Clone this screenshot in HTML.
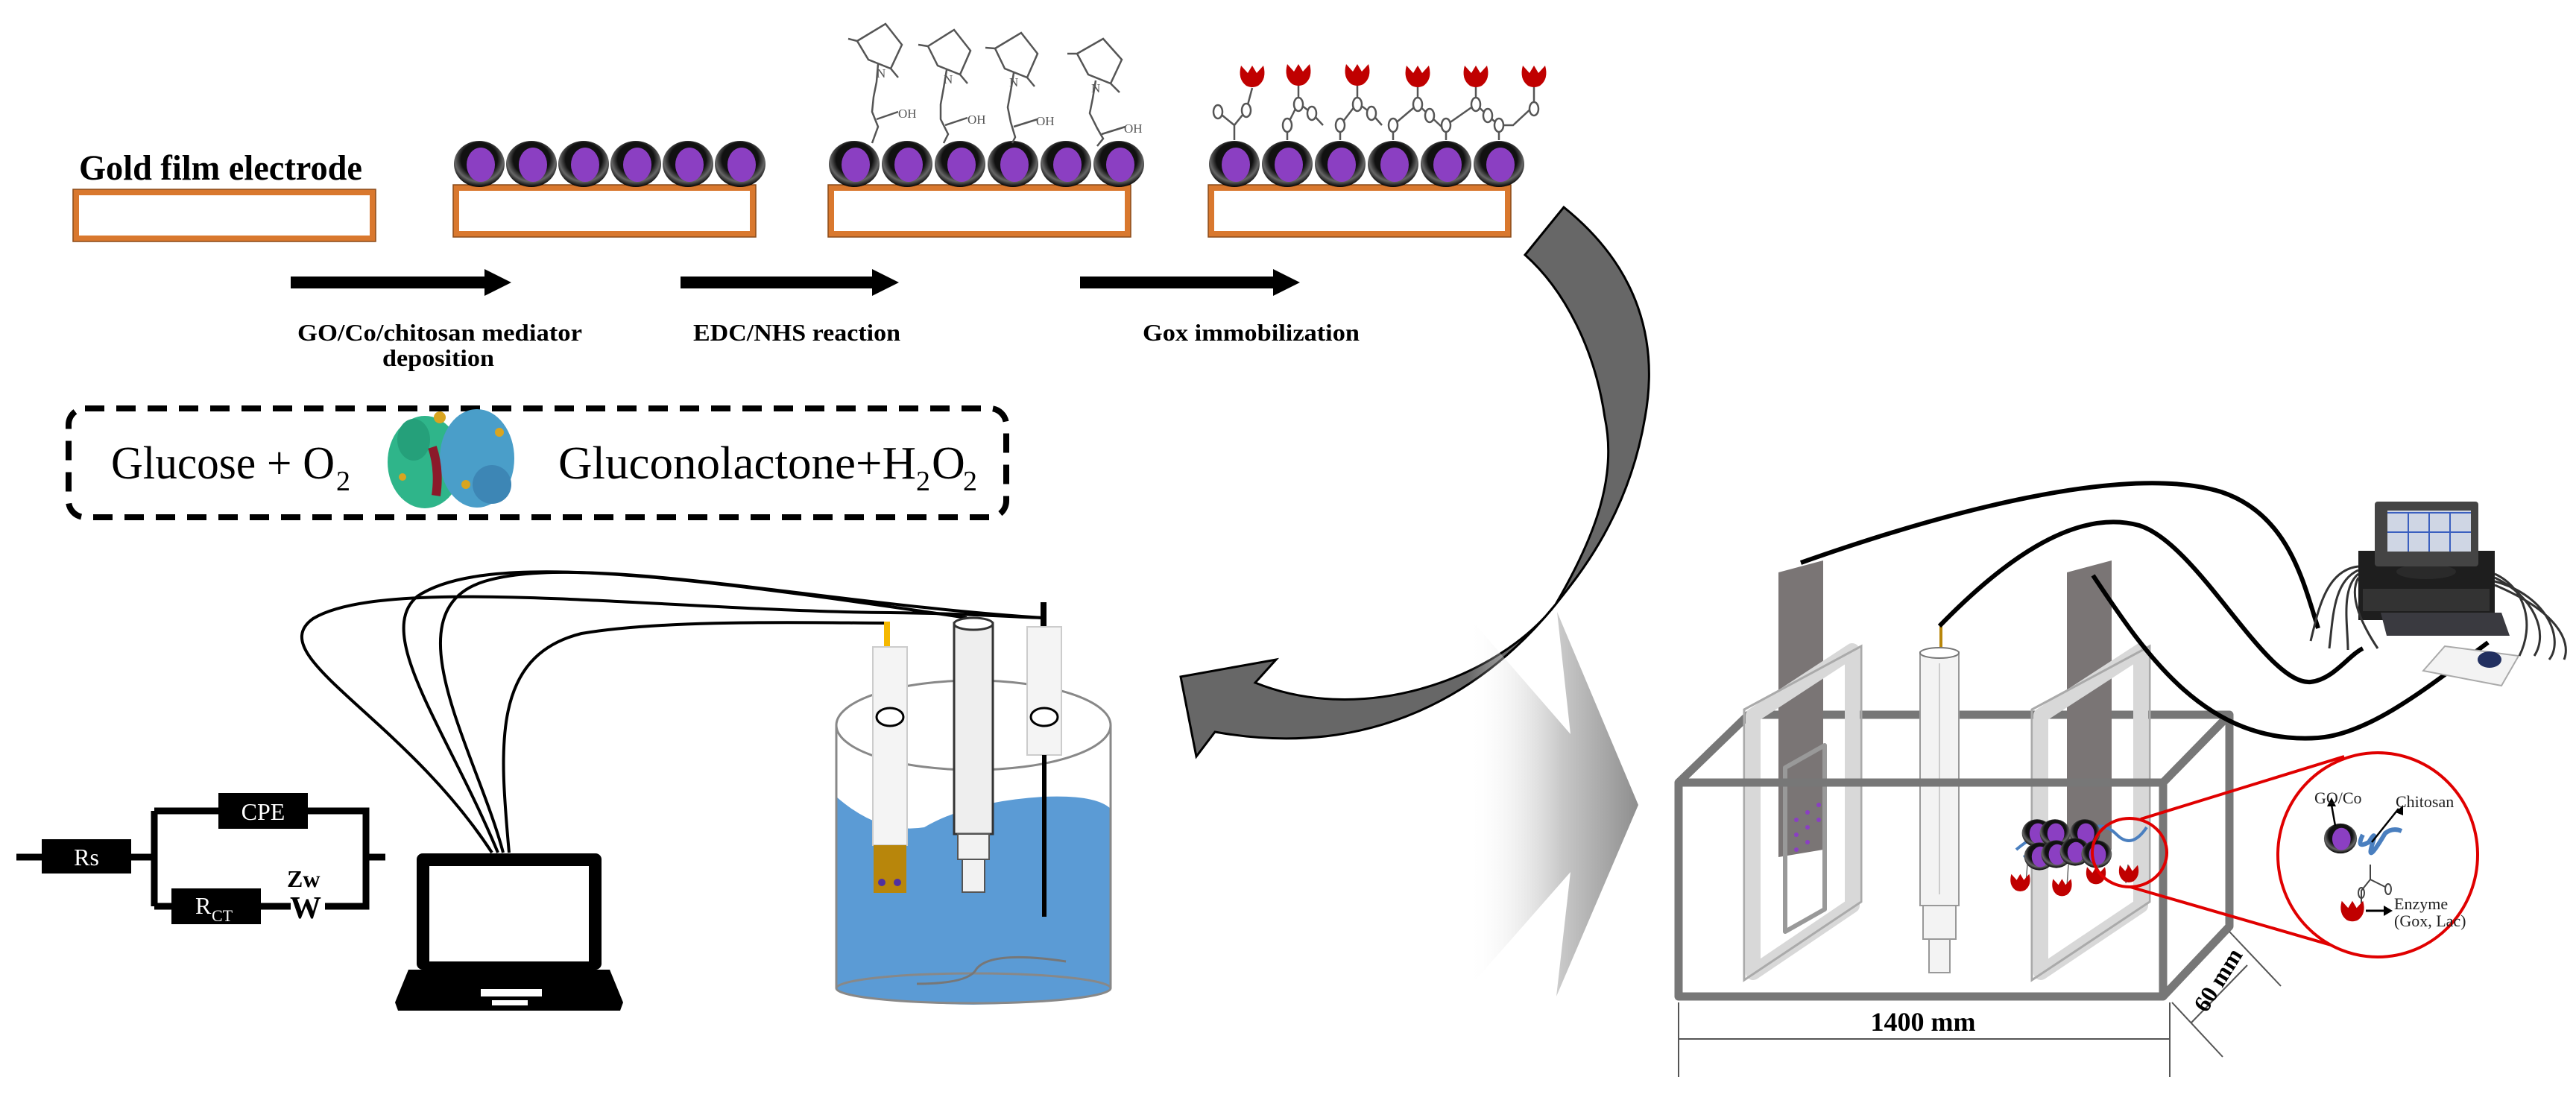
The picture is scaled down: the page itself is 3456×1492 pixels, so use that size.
<!DOCTYPE html>
<html><head><meta charset="utf-8"><style>
html,body{margin:0;padding:0;background:#fff;width:3456px;height:1492px;overflow:hidden}
svg{display:block}
text{font-family:"Liberation Serif",serif}
</style></head><body>
<svg width="3456" height="1492" viewBox="0 0 3456 1492" xmlns="http://www.w3.org/2000/svg">
<defs>
<radialGradient id="bead" cx="50%" cy="40%" r="60%"><stop offset="0.6" stop-color="#111"/><stop offset="0.8" stop-color="#666"/><stop offset="1" stop-color="#000"/></radialGradient>
<linearGradient id="chev" x1="0" x2="1" y1="0" y2="0"><stop offset="0" stop-color="#fff" stop-opacity="0"/><stop offset="0.55" stop-color="#c8c8c8"/><stop offset="1" stop-color="#8e8e8e"/></linearGradient>
<g id="b"><ellipse cx="0" cy="0" rx="34" ry="31" fill="url(#bead)"/><ellipse cx="2" cy="1" rx="19" ry="23" fill="#8b3fc2"/></g>
<g id="enz"><path d="M-15,-14 L-6,-4 L0,-14 L6,-4 L15,-14 Q20,4 8,13 Q0,17 -8,13 Q-20,4 -15,-14Z" fill="#c00000"/></g>
</defs>

<!-- Top: electrodes -->
<text x="106" y="241" font-size="48" font-weight="bold" textLength="380" lengthAdjust="spacingAndGlyphs">Gold film electrode</text>
<g fill="none" stroke="#d9782e" stroke-width="8">
<rect x="102" y="258" width="398" height="62"/>
<rect x="612" y="252" width="398" height="62"/>
<rect x="1115" y="252" width="398" height="62"/>
<rect x="1625" y="252" width="398" height="62"/>
</g>
<g fill="none" stroke="#8a4a18" stroke-width="1.5">
<rect x="98" y="254" width="406" height="70"/><rect x="608" y="248" width="406" height="70"/>
<rect x="1111" y="248" width="406" height="70"/><rect x="1621" y="248" width="406" height="70"/>
</g>
<!-- beads -->
<g>
<use href="#b" x="643" y="220"/><use href="#b" x="713" y="220"/><use href="#b" x="783" y="220"/><use href="#b" x="853" y="220"/><use href="#b" x="923" y="220"/><use href="#b" x="993" y="220"/>
<use href="#b" x="1146" y="220"/><use href="#b" x="1217" y="220"/><use href="#b" x="1288" y="220"/><use href="#b" x="1359" y="220"/><use href="#b" x="1430" y="220"/><use href="#b" x="1501" y="220"/>
<use href="#b" x="1656" y="220"/><use href="#b" x="1727" y="220"/><use href="#b" x="1798" y="220"/><use href="#b" x="1869" y="220"/><use href="#b" x="1940" y="220"/><use href="#b" x="2011" y="220"/>
</g>
<!-- NHS chemistry -->
<g fill="none" stroke="#555" stroke-width="2.5">
<path d="M1150,55 L1188,32 L1210,60 L1195,92 L1165,80Z M1150,55 L1138,52 M1195,92 L1205,104 M1178,86 L1176,110 L1172,130 L1170,150 L1178,170 L1170,192"/>
<path d="M1245,62 L1280,40 L1302,68 L1288,100 L1258,88Z M1245,62 L1232,60 M1288,100 L1298,112 M1270,94 L1266,118 L1262,140 L1262,160 L1272,180 L1266,192"/>
<path d="M1335,65 L1370,44 L1392,72 L1378,104 L1348,92Z M1335,65 L1322,64 M1378,104 L1388,116 M1360,98 L1356,122 L1352,144 L1356,164 L1362,184 L1358,192"/>
<path d="M1445,72 L1480,52 L1505,80 L1490,112 L1460,100Z M1445,72 L1432,72 M1490,112 L1502,124 M1470,108 L1466,132 L1462,152 L1472,172 L1480,186 L1472,196"/>
<path d="M1176,160 L1205,150 M1268,168 L1298,158 M1360,170 L1392,160 M1478,180 L1510,170"/>
</g>
<g font-size="17" fill="#555">
<text x="1205" y="158">OH</text><text x="1298" y="166">OH</text><text x="1390" y="168">OH</text><text x="1508" y="178">OH</text>
<text x="1176" y="104">N</text><text x="1266" y="112">N</text><text x="1354" y="116">N</text><text x="1464" y="124">N</text>
</g>
<!-- Gox chain -->
<g fill="none" stroke="#555" stroke-width="2.5">
<path d="M1656,188 L1656,168 L1672,148 L1680,118 M1656,168 L1634,150"/>
<path d="M1742,112 L1742,138 M1742,138 L1727,168 L1727,188 M1742,138 L1760,152 L1775,168"/>
<path d="M1821,112 L1821,138 L1798,168 L1798,188 M1821,138 L1840,152 L1854,168"/>
<path d="M1902,112 L1902,140 L1869,168 L1869,188 M1902,140 L1918,155 L1934,170"/>
<path d="M1980,112 L1980,140 L1940,168 L1940,188 M1980,140 L1996,155 L2011,168 L2011,188 M2058,112 L2058,142 L2030,168 L2011,168"/>
</g>
<g fill="#fff" stroke="#555" stroke-width="2.5">
<ellipse cx="1672" cy="148" rx="6" ry="9"/><ellipse cx="1742" cy="140" rx="6" ry="9"/><ellipse cx="1727" cy="168" rx="6" ry="9"/><ellipse cx="1760" cy="152" rx="6" ry="9"/>
<ellipse cx="1821" cy="140" rx="6" ry="9"/><ellipse cx="1798" cy="168" rx="6" ry="9"/><ellipse cx="1840" cy="152" rx="6" ry="9"/>
<ellipse cx="1902" cy="140" rx="6" ry="9"/><ellipse cx="1869" cy="168" rx="6" ry="9"/><ellipse cx="1918" cy="155" rx="6" ry="9"/>
<ellipse cx="1980" cy="140" rx="6" ry="9"/><ellipse cx="1940" cy="168" rx="6" ry="9"/><ellipse cx="1996" cy="155" rx="6" ry="9"/>
<ellipse cx="2058" cy="146" rx="6" ry="9"/><ellipse cx="2011" cy="168" rx="6" ry="9"/><ellipse cx="1634" cy="150" rx="6" ry="9"/>
</g>
<use href="#enz" x="1680" y="102"/><use href="#enz" x="1742" y="100"/><use href="#enz" x="1821" y="100"/><use href="#enz" x="1902" y="102"/><use href="#enz" x="1980" y="102"/><use href="#enz" x="2058" y="102"/>

<!-- step arrows -->
<g fill="#000">
<path d="M390,371 L650,371 L650,361 L686,379 L650,397 L650,387 L390,387Z"/>
<path d="M913,371 L1170,371 L1170,361 L1206,379 L1170,397 L1170,387 L913,387Z"/>
<path d="M1449,371 L1708,371 L1708,361 L1744,379 L1708,397 L1708,387 L1449,387Z"/>
</g>
<g font-size="32" font-weight="bold">
<text x="399" y="457" textLength="382" lengthAdjust="spacingAndGlyphs">GO/Co/chitosan mediator</text>
<text x="513" y="491" textLength="150" lengthAdjust="spacingAndGlyphs">deposition</text>
<text x="930" y="457" textLength="278" lengthAdjust="spacingAndGlyphs">EDC/NHS reaction</text>
<text x="1533" y="457" textLength="291" lengthAdjust="spacingAndGlyphs">Gox immobilization</text>
</g>

<!-- dashed box -->
<rect x="92" y="548" width="1258" height="146" rx="22" fill="none" stroke="#000" stroke-width="8" stroke-dasharray="26,16"/>
<text x="149" y="642" font-size="62" textLength="300" lengthAdjust="spacingAndGlyphs">Glucose + O</text>
<text x="451" y="658" font-size="38">2</text>
<text x="749" y="642" font-size="62" textLength="480" lengthAdjust="spacingAndGlyphs">Gluconolactone+H</text>
<text x="1229" y="658" font-size="38">2</text>
<text x="1250" y="642" font-size="62">O</text>
<text x="1292" y="658" font-size="38">2</text>
<!-- enzyme protein blob -->
<g>
<ellipse cx="570" cy="620" rx="50" ry="62" fill="#2fb58a"/>
<ellipse cx="640" cy="615" rx="50" ry="66" fill="#4a9ec9"/>
<ellipse cx="555" cy="590" rx="22" ry="28" fill="#25a07a"/>
<ellipse cx="660" cy="650" rx="26" ry="26" fill="#3d86b5"/>
<path d="M580,600 Q590,630 585,665" stroke="#8b1a2a" stroke-width="12" fill="none"/>
<circle cx="590" cy="560" r="8" fill="#d9a520"/><circle cx="670" cy="580" r="6" fill="#d9a520"/><circle cx="625" cy="650" r="6" fill="#d9a520"/><circle cx="540" cy="640" r="5" fill="#d9a520"/>
</g>

<!-- curved gray arrow -->
<path d="M2098,278 C2200,360 2225,460 2207,560 C2185,690 2120,770 2087,811 C1990,930 1840,1020 1630,982 L1605,1015 L1584,908 L1712,885 L1684,916 C1830,975 2010,910 2087,811 C2140,720 2170,640 2153,560 C2140,470 2100,390 2046,342 Z" fill="#676767" stroke="#000" stroke-width="3"/>

<!-- big chevron -->
<path d="M1969,826 L2107,985 L2089,821 L2198,1080 L2088,1337 L2107,1170 L1969,1327 Z" fill="url(#chev)"/>

<!-- laptop cables -->
<g fill="none" stroke="#000" stroke-width="4">
<path d="M660,1144 C540,960 350,880 420,830 C520,770 900,820 1194,822 C1300,823 1360,828 1400,829"/>
<path d="M668,1144 C600,980 500,850 560,800 C650,740 900,770 1297,829"/>
<path d="M675,1144 C640,1010 520,820 650,780 C780,740 1100,810 1400,829"/>
<path d="M683,1144 C670,1000 660,880 780,850 C900,830 1100,836 1194,836"/>
</g>
<!-- laptop -->
<rect x="559" y="1145" width="248" height="156" rx="8" fill="#000"/>
<rect x="576" y="1162" width="214" height="128" fill="#fff"/>
<path d="M548,1301 L818,1301 L836,1345 L832,1356 L534,1356 L530,1345Z" fill="#000"/>
<rect x="645" y="1327" width="82" height="10" fill="#fff"/><rect x="660" y="1342" width="48" height="7" fill="#fff"/>

<!-- circuit -->
<g stroke="#000" stroke-width="9" fill="none">
<path d="M22,1150 L56,1150 M176,1150 L207,1150 M207,1088 L207,1216 M207,1088 L295,1088 M412,1088 L491,1088 L491,1216 L436,1216 M207,1216 L232,1216 M350,1216 L390,1216 M491,1150 L517,1150"/>
</g>
<rect x="56" y="1126" width="120" height="46" fill="#000"/>
<rect x="293" y="1064" width="120" height="48" fill="#000"/>
<rect x="230" y="1192" width="120" height="48" fill="#000"/>
<g fill="#fff" font-size="32">
<text x="116" y="1161" text-anchor="middle">Rs</text>
<text x="353" y="1100" text-anchor="middle">CPE</text>
<text x="262" y="1226">R</text><text x="284" y="1236" font-size="22">CT</text>
</g>
<text x="385" y="1190" font-size="32" font-weight="bold">Zw</text>
<text x="389" y="1232" font-size="42" font-weight="bold" font-family="Liberation Sans">W</text>

<!-- beaker -->
<path d="M1122,1069 Q1180,1120 1240,1110 Q1300,1075 1400,1069 Q1470,1066 1490,1085 L1490,1326 Q1306,1370 1122,1326Z" fill="#5b9bd5"/>
<ellipse cx="1306" cy="1326" rx="184" ry="20" fill="#5b9bd5" stroke="#888" stroke-width="3"/>
<path d="M1430,1290 Q1330,1275 1310,1300 Q1300,1320 1230,1320" fill="none" stroke="#777" stroke-width="3"/>
<ellipse cx="1306" cy="973" rx="184" ry="60" fill="#fff" fill-opacity="0.6" stroke="#888" stroke-width="3"/>
<path d="M1122,973 L1122,1326 M1490,973 L1490,1326" stroke="#888" stroke-width="3"/>
<!-- left working electrode -->
<rect x="1186" y="834" width="8" height="44" fill="#f5b800"/>
<rect x="1171" y="868" width="46" height="266" fill="#f4f4f4" stroke="#ccc" stroke-width="2"/>
<rect x="1172" y="1134" width="44" height="64" fill="#b8860b"/>
<circle cx="1183" cy="1184" r="5" fill="#5030a0"/><circle cx="1204" cy="1184" r="5" fill="#5030a0"/>
<ellipse cx="1194" cy="962" rx="18" ry="12" fill="#fff" stroke="#000" stroke-width="3"/>
<!-- middle -->
<rect x="1280" y="836" width="52" height="283" fill="#eee" stroke="#333" stroke-width="3"/>
<ellipse cx="1306" cy="837" rx="26" ry="8" fill="#fff" stroke="#333" stroke-width="3"/>
<rect x="1285" y="1119" width="42" height="34" fill="#f2f2f2" stroke="#555" stroke-width="2"/>
<rect x="1291" y="1153" width="30" height="44" fill="#f2f2f2" stroke="#555" stroke-width="2"/>
<!-- right -->
<rect x="1396" y="808" width="8" height="38" fill="#000"/>
<rect x="1378" y="841" width="46" height="172" fill="#f4f4f4" stroke="#ccc" stroke-width="2"/>
<rect x="1398" y="1013" width="6" height="217" fill="#000"/>
<ellipse cx="1401" cy="962" rx="18" ry="12" fill="#fff" stroke="#000" stroke-width="3"/>

<!-- right setup: tank back lines -->
<g stroke="#777" stroke-width="11" fill="none" stroke-linejoin="round">
<path d="M2252,1050 L2346,959 L2991,959 L2991,1243 L2902,1337 M2902,1050 L2991,959"/>
</g>
<!-- left holder -->
<path d="M2386,768 L2446,752 L2446,1140 L2386,1150Z" fill="#7a7575"/>
<g fill="none" stroke="#d8d8d8" stroke-width="20" stroke-linejoin="round">
<path d="M2352,960 L2485,873 L2485,1215 L2352,1305Z"/>
<path d="M2395,1030 L2448,1000 L2448,1220 L2395,1250Z" stroke-width="6" stroke="#999"/>
</g>
<g fill="none" stroke="#aaa" stroke-width="3"><path d="M2340,952 L2497,867 L2497,1210 L2340,1315Z"/></g>
<g fill="#8a3fc2"><circle cx="2410" cy="1100" r="3"/><circle cx="2425" cy="1090" r="3"/><circle cx="2410" cy="1120" r="3"/><circle cx="2425" cy="1110" r="3"/><circle cx="2440" cy="1080" r="3"/><circle cx="2440" cy="1100" r="3"/><circle cx="2410" cy="1140" r="3"/><circle cx="2425" cy="1130" r="3"/></g>
<!-- right holder -->
<path d="M2773,768 L2833,752 L2833,1140 L2773,1150Z" fill="#7a7575"/>
<g fill="none" stroke="#d8d8d8" stroke-width="20" stroke-linejoin="round">
<path d="M2738,960 L2872,873 L2872,1215 L2738,1305Z"/>
</g>
<g fill="none" stroke="#aaa" stroke-width="3"><path d="M2726,952 L2884,867 L2884,1210 L2726,1315Z"/></g>
<!-- center tube -->
<rect x="2602" y="840" width="4" height="35" fill="#b8860b"/>
<rect x="2576" y="875" width="52" height="340" fill="#f3f3f3" stroke="#999" stroke-width="2"/>
<ellipse cx="2602" cy="876" rx="26" ry="7" fill="#fff" stroke="#777" stroke-width="2"/>
<line x1="2602" y1="890" x2="2602" y2="1200" stroke="#ccc" stroke-width="2"/>
<rect x="2580" y="1215" width="44" height="45" fill="#f3f3f3" stroke="#999" stroke-width="2"/>
<rect x="2588" y="1260" width="28" height="45" fill="#f3f3f3" stroke="#999" stroke-width="2"/>
<!-- tank front -->
<g stroke="#777" stroke-width="11" fill="none" stroke-linejoin="round">
<path d="M2252,1050 L2902,1050 L2902,1337 L2252,1337Z"/>
</g>
<!-- beads on right electrode -->
<g fill="none" stroke="#4a7fbf" stroke-width="4">
<path d="M2705,1140 Q2740,1110 2760,1125 Q2780,1140 2800,1115 Q2820,1100 2840,1120 Q2860,1140 2880,1110"/>
<path d="M2715,1150 Q2745,1130 2765,1145 Q2790,1160 2810,1135"/>
</g>
<g transform="scale(0.6)">
<use href="#b" x="4555" y="1863"/><use href="#b" x="4595" y="1863"/><use href="#b" x="4662" y="1863"/>
<use href="#b" x="4560" y="1915"/><use href="#b" x="4598" y="1910"/><use href="#b" x="4640" y="1905"/><use href="#b" x="4688" y="1910"/>
</g>
<g fill="none" stroke="#666" stroke-width="1.5"><path d="M2720,1160 L2718,1185 M2775,1160 L2773,1190 M2815,1160 L2812,1185 M2855,1160 L2852,1185"/></g>
<g transform="scale(0.8)"><use href="#enz" x="3388" y="1480"/><use href="#enz" x="3458" y="1488"/><use href="#enz" x="3515" y="1468"/><use href="#enz" x="3570" y="1465"/></g>
<!-- zoom circle -->
<ellipse cx="2857" cy="1144" rx="50" ry="46" fill="none" stroke="#e00000" stroke-width="4"/>
<path d="M2872,1099 L3145,1015 M2858,1190 L3155,1276" stroke="#e00000" stroke-width="4"/>
<ellipse cx="3190" cy="1147" rx="134" ry="137" fill="#fff" stroke="#e00000" stroke-width="4"/>
<g transform="translate(3140,1125) scale(0.65)"><use href="#b" x="0" y="0"/></g>
<path d="M3170,1120 Q3160,1140 3178,1130 Q3190,1110 3182,1135 Q3175,1160 3200,1118 Q3210,1110 3222,1115" fill="none" stroke="#4a7fbf" stroke-width="6"/>
<path d="M3133,1108 L3128,1080 M3182,1130 L3218,1085" stroke="#000" stroke-width="2.5"/>
<path d="M3122,1082 l6,-12 l6,12z M3214,1090 l10,-10 l0,14z"/>
<g fill="none" stroke="#444" stroke-width="2"><path d="M3180,1160 L3180,1180 L3168,1195 L3168,1212 M3180,1180 L3200,1190"/><ellipse cx="3168" cy="1198" rx="4" ry="7"/><ellipse cx="3204" cy="1193" rx="4" ry="7"/></g>
<g transform="translate(3156,1222) scale(0.95)"><use href="#enz" x="0" y="0"/></g>
<path d="M3174,1222 L3200,1222" stroke="#000" stroke-width="3"/><path d="M3198,1215 l12,7 l-12,7z"/>
<g font-size="22" fill="#222">
<text x="3105" y="1078">GO/Co</text><text x="3214" y="1083">Chitosan</text>
<text x="3212" y="1220">Enzyme</text><text x="3212" y="1243">(Gox, Lac)</text>
</g>
<!-- dimensions -->
<g stroke="#555" stroke-width="2" fill="none">
<path d="M2252,1345 L2252,1445 M2911,1345 L2911,1445 M2252,1394 L2911,1394 M2991,1250 L3060,1323 M2914,1345 L2982,1418 M2940,1372 L3015,1295"/>
</g>
<text x="2580" y="1383" font-size="36" font-weight="bold" text-anchor="middle">1400 mm</text>
<text x="0" y="0" font-size="32" font-weight="bold" transform="translate(2960,1360) rotate(-58)">60 mm</text>

<!-- cables to computer -->
<g fill="none" stroke="#000" stroke-width="6">
<path d="M2416,755 C2600,690 2850,620 2980,660 C3070,690 3090,780 3110,843"/>
<path d="M2602,840 C2680,760 2780,680 2870,705 C2950,730 3040,920 3100,915 C3130,912 3150,880 3170,870"/>
<path d="M2808,772 C2880,880 2960,1000 3110,990 C3180,985 3260,920 3338,862"/>
</g>
<!-- computer -->
<rect x="3164" y="739" width="183" height="93" fill="#1e1e1e"/>
<rect x="3170" y="790" width="170" height="30" fill="#333"/>
<path d="M3194,822 L3356,822 L3367,853 L3202,853Z" fill="#3a3a40"/>
<ellipse cx="3255" cy="767" rx="40" ry="10" fill="#2a2a2a"/>
<rect x="3186" y="673" width="139" height="87" rx="4" fill="#444"/>
<rect x="3203" y="685" width="112" height="55" fill="#cfd6e4"/>
<g fill="none" stroke="#3a5fbf" stroke-width="2"><path d="M3203,688 L3315,688 M3231,688 L3231,740 M3259,688 L3259,740 M3287,688 L3287,740 M3203,714 L3315,714"/></g>
<path d="M3251,900 L3280,867 L3379,880 L3356,920Z" fill="#f3f3f3" stroke="#aaa" stroke-width="2"/>
<ellipse cx="3340" cy="885" rx="16" ry="11" fill="#223060"/>
<g fill="none" stroke="#333" stroke-width="3">
<path d="M3164,760 C3120,765 3110,820 3100,860 M3164,765 C3130,780 3130,830 3125,870 M3164,770 C3140,790 3150,840 3150,872 M3164,775 C3150,800 3170,840 3190,870"/>
<path d="M3347,770 C3390,790 3400,840 3380,880 M3347,775 C3400,800 3420,850 3400,880 M3347,780 C3420,800 3440,860 3420,885 M3347,785 C3430,820 3450,860 3440,885"/>
</g>
</svg>
</body></html>
